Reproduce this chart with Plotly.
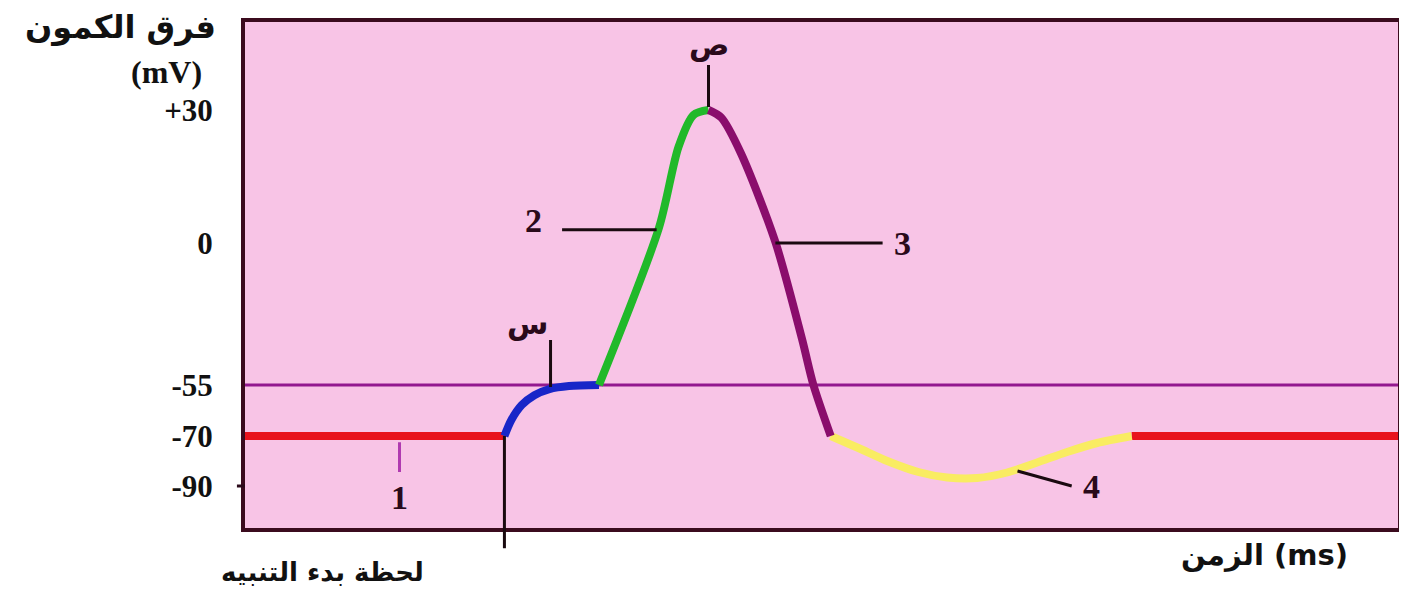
import numpy as np
import plotly.graph_objects as go

# schematic y scale of the drawing (mV -> vertical position, not linear in the original)
MV_TICKS = [-90, -70, -55, 0, 30]
MV_POS = [42, 92, 143, 285, 418]
TICK_TEXT = ["-90", "-70", "-55", "0", "+30"]

# action potential segments (time in arbitrary units, voltage in mV)
rest1_t = [0, 22.5]
rest1_v = [-70, -70]

depol_t = [22.5, 23.1, 24.0, 25.1, 26.4, 28.1, 30.7]
depol_v = [-70, -65.3, -60.9, -58.0, -56.2, -55.3, -55]

rise_t = [30.7, 35.9, 37.6, 38.9, 40.2]
rise_v = [-55, 3.4, 21.7, 28.9, 30]

fall_t = [40.2, 41.3, 43.0, 46.0, 48.3, 49.3, 50.8]
fall_v = [30, 28.3, 20.3, 0.2, -37, -55, -70]

hyper_t = [50.8, 53.2, 55.7, 58.4, 60.9, 63.5, 66.1, 68.7, 71.3, 73.9, 76.9]
hyper_v = [-70, -74.8, -80.0, -84.4, -86.6, -86.8, -84.6, -80.6, -76.4, -72.8, -70]

rest2_t = [76.9, 100]
rest2_v = [-70, -70]

THRESHOLD = -55


def pos(mv):
    return np.interp(mv, MV_TICKS, MV_POS)


fig = go.Figure()

# threshold line
fig.add_trace(go.Scatter(x=[0, 100], y=pos([THRESHOLD, THRESHOLD]), mode='lines',
                         line=dict(color='#93188f', width=3), hoverinfo='skip'))

segments = [
    (rest1_t, rest1_v, '#e8121c', 'linear'),
    (rest2_t, rest2_v, '#e8121c', 'linear'),
    (hyper_t, hyper_v, '#f9ec62', 'spline'),
    (depol_t, depol_v, '#1826c8', 'spline'),
    (rise_t, rise_v, '#21b92a', 'spline'),
    (fall_t, fall_v, '#8a0d6c', 'spline'),
]
for t, v, color, shape in segments:
    fig.add_trace(go.Scatter(x=t, y=pos(v), mode='lines',
                             line=dict(color=color, width=8, shape=shape, smoothing=0.8)))

ann_font = dict(family='Liberation Serif', size=34, color='#2a0a1a')
letter_font = dict(family='DejaVu Sans', size=30, color='#2a0a1a')

peak_x, peak_y = rise_t[-1], pos(rise_v[-1])
thr_x = 26.5
stim_x = rest1_t[-1]

annotations = [
    dict(x=peak_x, y=peak_y + 66, text='<b>ص</b>', font=letter_font),
    dict(x=24.5, y=pos(THRESHOLD) + 62, text='<b>س</b>', font=letter_font),
    dict(x=25.0, y=pos(5), text='<b>2</b>', font=ann_font),
    dict(x=57.0, y=pos(0), text='<b>3</b>', font=ann_font),
    dict(x=13.4, y=pos(-90) - 11, text='<b>1</b>', font=ann_font),
    dict(x=73.4, y=pos(-91), text='<b>4</b>', font=ann_font),
]
for a in annotations:
    a.update(xref='x', yref='y', showarrow=False)

annotations += [
    dict(x=-0.108, y=0.99, text='<b>فرق الكمون</b>',
         font=dict(family='DejaVu Sans', size=32, color='#111111')),
    dict(x=-0.068, y=0.901, text='<b>(mV)</b>',
         font=dict(family='Liberation Serif', size=32, color='#111111')),
    dict(x=0.0674, y=-0.087, text='<b>لحظة بدء التنبيه</b>',
         font=dict(family='DejaVu Sans', size=26, color='#111111')),
    dict(x=0.884, y=-0.053, text='<b>الزمن (ms)</b>',
         font=dict(family='DejaVu Sans', size=29, color='#111111')),
]
for a in annotations[-4:]:
    a.update(xref='paper', yref='paper', showarrow=False, xanchor='center', yanchor='middle')

leader = dict(color='#1a0a10', width=3)
shapes = [
    # ص leader
    dict(type='line', xref='x', yref='y', x0=peak_x, x1=peak_x, y0=peak_y + 3, y1=peak_y + 45, line=leader),
    # س leader
    dict(type='line', xref='x', yref='y', x0=thr_x, x1=thr_x, y0=pos(THRESHOLD) - 2, y1=pos(THRESHOLD) + 45, line=leader),
    # 2 leader
    dict(type='line', xref='x', yref='y', x0=27.5, x1=35.7, y0=pos(3), y1=pos(3), line=leader),
    # 3 leader
    dict(type='line', xref='x', yref='y', x0=46.0, x1=55.3, y0=pos(0), y1=pos(0), line=leader),
    # 4 leader
    dict(type='line', xref='x', yref='y', x0=67.0, x1=71.7, y0=pos(-84), y1=pos(-91), line=leader),
    # 1 marker
    dict(type='line', xref='x', yref='y', x0=13.4, x1=13.4, y0=pos(-72.5), y1=pos(-84.4), line=dict(color='#b03ab0', width=3)),
    # stimulus instant line (goes below the frame)
    dict(type='line', xref='paper', yref='paper', x0=stim_x / 100, x1=stim_x / 100,
         y0=-0.04, y1=pos(-70) / 506, line=leader),
    # tick at -90
    dict(type='line', xref='paper', yref='paper', x0=-0.007, x1=0, y0=pos(-90) / 506, y1=pos(-90) / 506,
         line=dict(color='#2a0a1a', width=3)),
]

# the page adds an 8px body margin, so the figure is 8px smaller than the window
fig.update_layout(
    width=1399, height=583,
    margin=dict(l=237, r=5, t=14, b=63),
    paper_bgcolor='white',
    plot_bgcolor='#f8c4e6',
    showlegend=False,
    annotations=annotations,
    shapes=shapes,
)
fig.update_xaxes(range=[0, 100], showgrid=False, zeroline=False, showticklabels=False,
                 showline=True, mirror=True, linecolor='#3b0b1e', linewidth=4)
fig.update_yaxes(range=[0, 506], showgrid=False, zeroline=False,
                 tickvals=MV_POS, ticktext=['<b>%s</b>' % s for s in TICK_TEXT],
                 tickfont=dict(family='Liberation Serif', size=31, color='#111111'),
                 ticklabelstandoff=22,
                 showline=True, mirror=True, linecolor='#3b0b1e', linewidth=4)

fig.write_html("out.html")
